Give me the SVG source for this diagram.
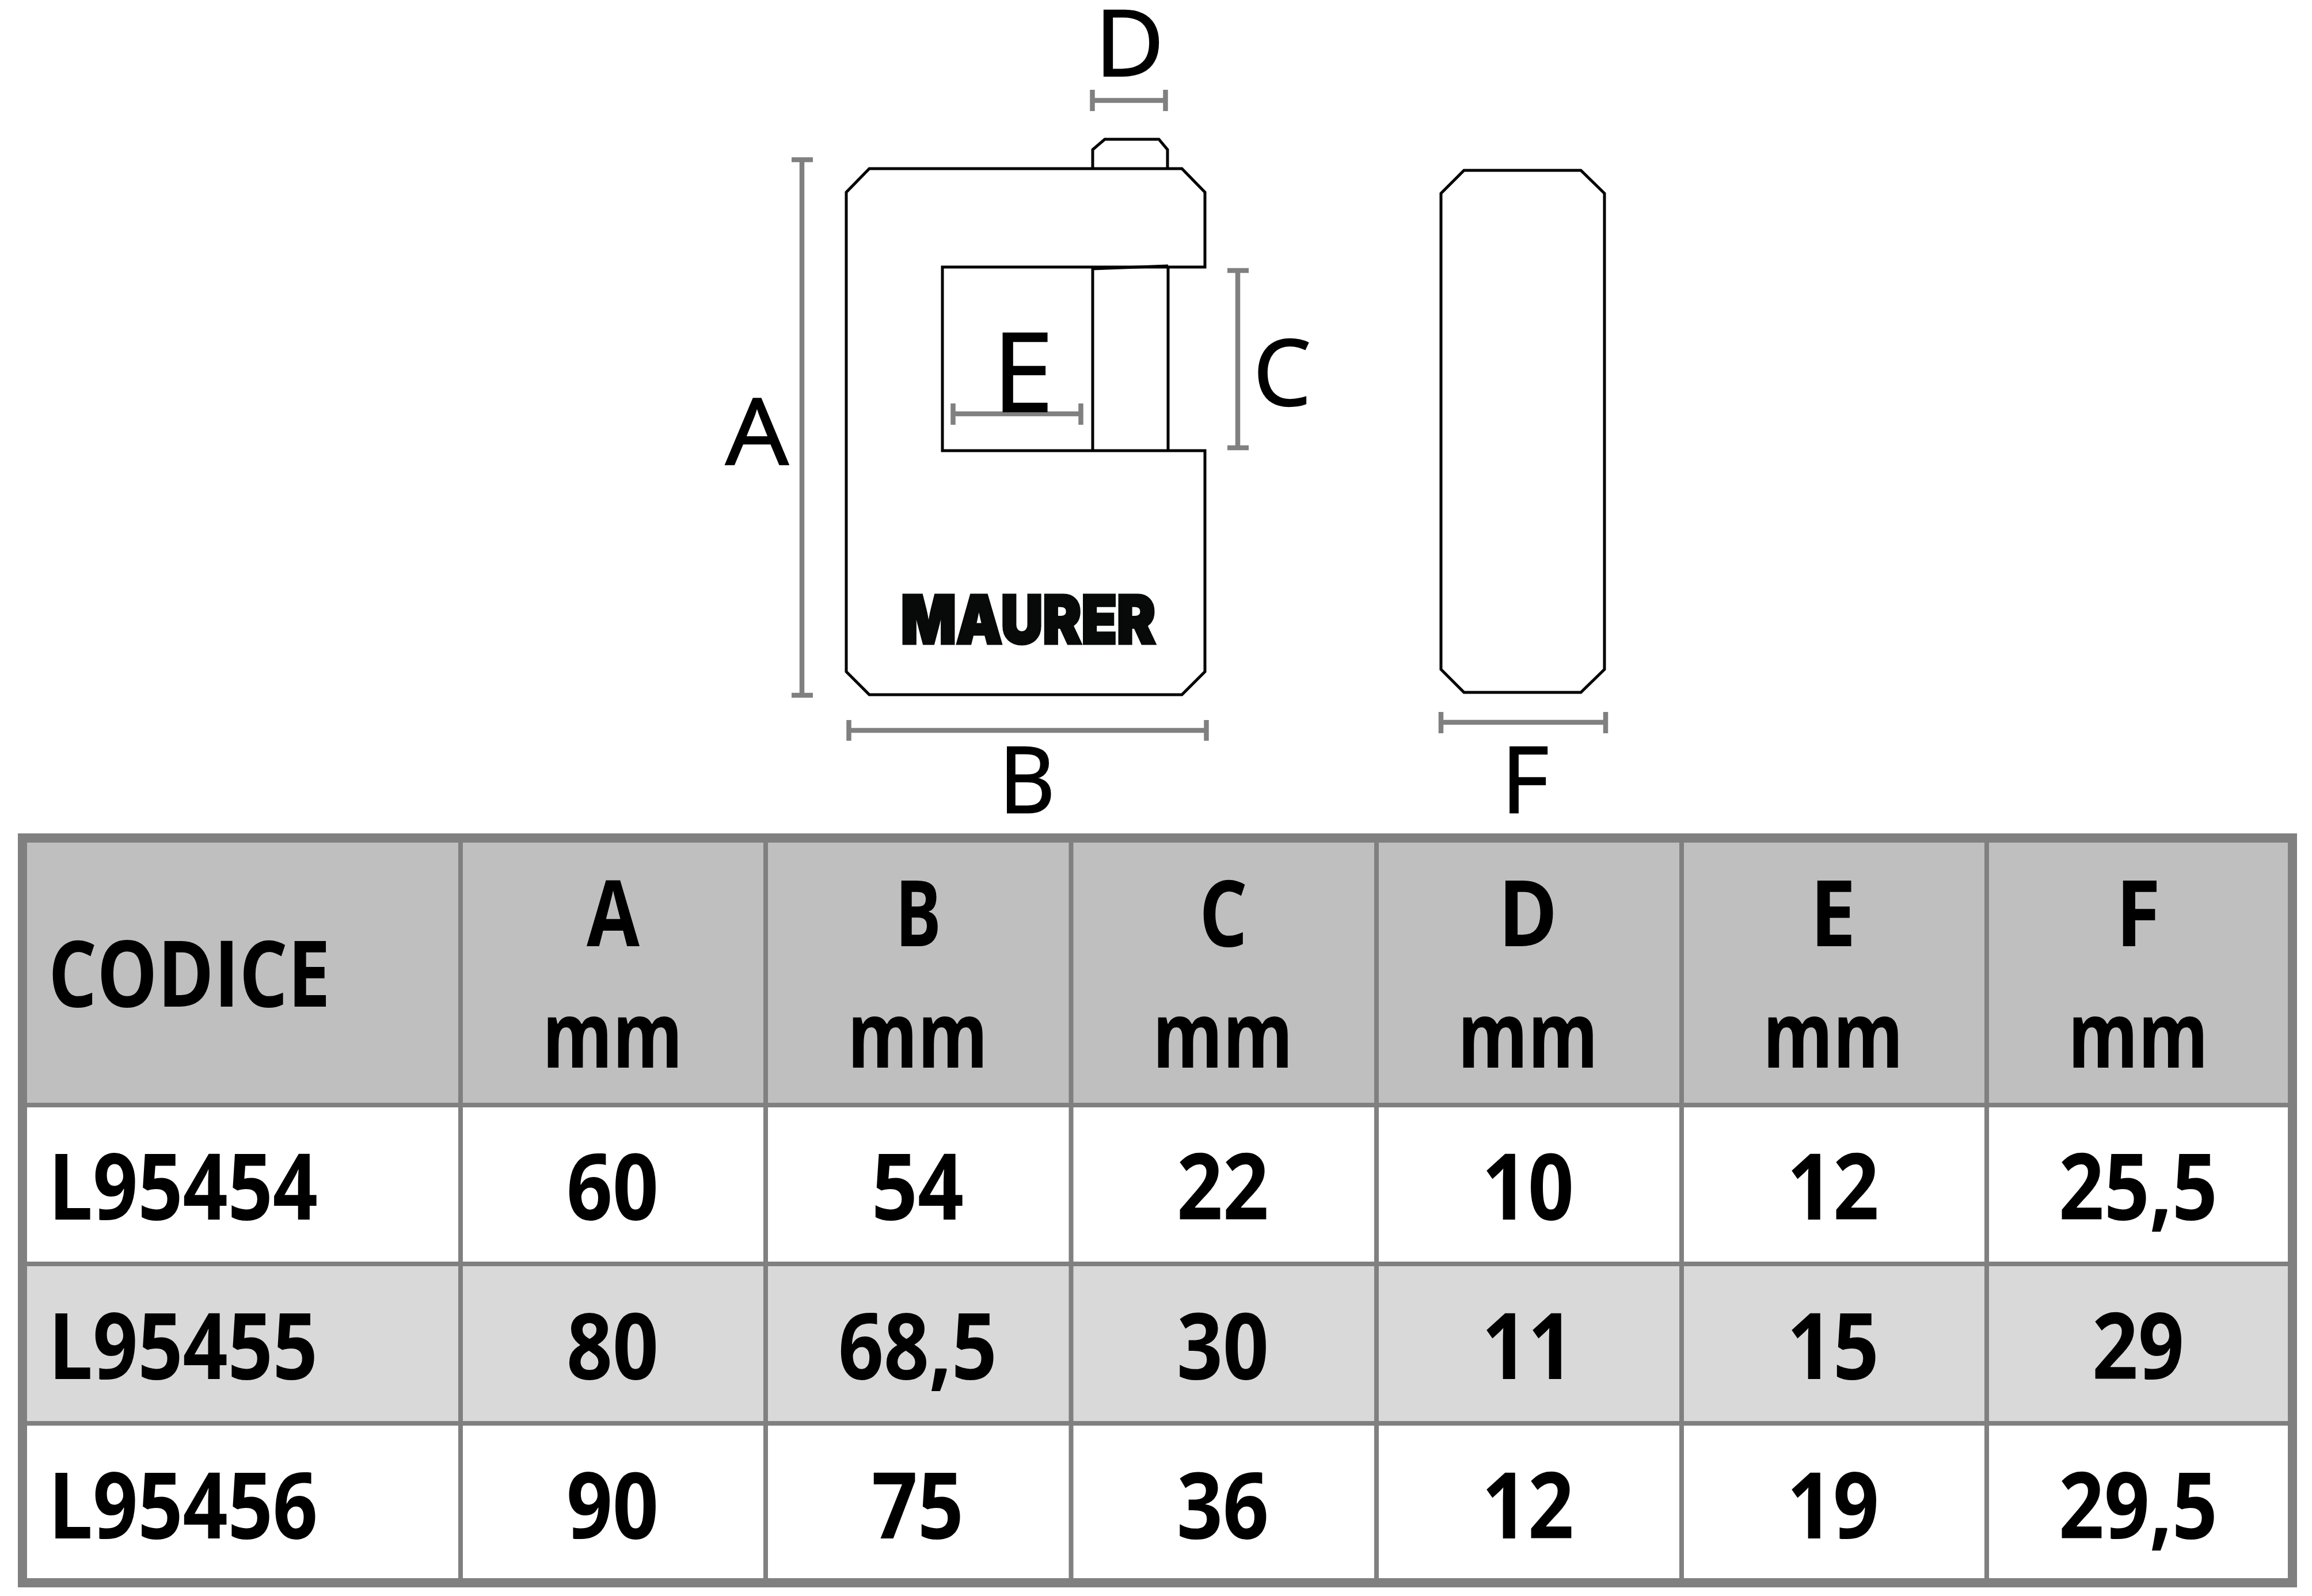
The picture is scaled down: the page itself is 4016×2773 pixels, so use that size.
<svg xmlns="http://www.w3.org/2000/svg" width="4016" height="2773" viewBox="0 0 4016 2773">
<style>
text{font-family:"Open Sans","Noto Sans","Liberation Sans",sans-serif;fill:#000;text-anchor:middle}
.lab{font-size:160px;font-weight:400;stroke:#000;stroke-width:2.5}
.t{font-size:160px;font-weight:700}
.l{text-anchor:start}
.o{fill:none;stroke:#000;stroke-width:5;stroke-linejoin:miter}
.dim{fill:none;stroke:#808080;stroke-width:8.5}
.grid{fill:none;stroke:#808080;stroke-width:8}
</style>
<rect width="4016" height="2773" fill="#fff"/>
<g id="front-view">
<path class="o" d="M1510 293H2053L2093 334V464H1637V783H2093V1167L2053 1207H1510L1470 1167V334Z"/>
<path class="o" d="M1898 293V260L1919 242H2013L2028 260V293"/>
<path class="o" d="M1898 464V783M2029 462V783M1898 467L2029 462"/>
<text x="1786" y="1118" style="font-family:Inter,'Liberation Sans',sans-serif;font-size:115px;font-weight:900;fill:#070a08;stroke:#070a08;stroke-width:5" textLength="442" lengthAdjust="spacingAndGlyphs">MAURER</text>
</g>
<g id="side-view">
<path class="o" d="M2543 296H2746L2787 336V1163L2746 1203H2543L2503 1163V336Z"/>
</g>
<g id="connectors">
<path class="dim" d="M1393 277V1208M1375 277.5H1412M1375 1208H1412"/>
<path class="dim" d="M1474 1269H2096M1474.500 1251V1287M2095.500 1251V1287"/>
<path class="dim" d="M2150 470V778M2132 470H2169M2132 778H2169"/>
<path class="dim" d="M1897 174.500H2025M1897.500 156V193M2024.500 156V193"/>
<path class="dim" d="M1655 719H1878M1655.500 701V738M1877.500 701V738"/>
<path class="dim" d="M2503 1255H2789M2503 1237V1274M2789 1237V1274"/>
</g>
<g id="dim-labels">
<text class="lab" x="1315" y="807" textLength="109" lengthAdjust="spacingAndGlyphs">A</text>
<text class="lab" x="1784" y="1412" textLength="97" lengthAdjust="spacingAndGlyphs">B</text>
<text class="lab" x="2227" y="704" textLength="100" lengthAdjust="spacingAndGlyphs">C</text>
<text class="lab" x="1962" y="132" textLength="120" lengthAdjust="spacingAndGlyphs">D</text>
<text class="lab" x="1777" y="715" style="font-size:190px">E</text>
<text class="lab" x="2649" y="1412">F</text>
</g>
<g id="table">
<rect x="39" y="1456" width="3943" height="462" fill="#bfbfbf"/>
<rect x="39" y="2196" width="3943" height="277" fill="#d9d9d9"/>
<path class="grid" d="M39 1920H3982M39 2196H3982M39 2473H3982M800 1456V2750M1330 1456V2750M1860.500 1456V2750M2391 1456V2750M2921 1456V2750M3451 1456V2750"/>
<rect x="39" y="1456" width="3943" height="1294" fill="none" stroke="#808080" stroke-width="16"/>
<g id="row-header">
<text class="t l" x="84" y="1749" textLength="490" lengthAdjust="spacingAndGlyphs">CODICE</text>
<text class="t" x="1065" y="1644" textLength="92" lengthAdjust="spacingAndGlyphs">A</text><text class="t" x="1064" y="1855" textLength="244" lengthAdjust="spacingAndGlyphs">mm</text>
<text class="t" x="1595" y="1644" textLength="80" lengthAdjust="spacingAndGlyphs">B</text><text class="t" x="1594" y="1855" textLength="244" lengthAdjust="spacingAndGlyphs">mm</text>
<text class="t" x="2125" y="1644" textLength="84" lengthAdjust="spacingAndGlyphs">C</text><text class="t" x="2124" y="1855" textLength="244" lengthAdjust="spacingAndGlyphs">mm</text>
<text class="t" x="2654" y="1644" textLength="103" lengthAdjust="spacingAndGlyphs">D</text><text class="t" x="2654" y="1855" textLength="244" lengthAdjust="spacingAndGlyphs">mm</text>
<text class="t" x="3184" y="1644" textLength="80" lengthAdjust="spacingAndGlyphs">E</text><text class="t" x="3184" y="1855" textLength="244" lengthAdjust="spacingAndGlyphs">mm</text>
<text class="t" x="3714" y="1644" textLength="78" lengthAdjust="spacingAndGlyphs">F</text><text class="t" x="3714" y="1855" textLength="244" lengthAdjust="spacingAndGlyphs">mm</text>
</g>
<g id="row-L95454">
<text class="t l" x="84" y="2119" textLength="468" lengthAdjust="spacingAndGlyphs">L95454</text>
<text class="t" x="1064" y="2119" textLength="160" lengthAdjust="spacingAndGlyphs">60</text>
<text class="t" x="1594" y="2119" textLength="160" lengthAdjust="spacingAndGlyphs">54</text>
<text class="t" x="2124" y="2119" textLength="160" lengthAdjust="spacingAndGlyphs">22</text>
<text class="t" x="2654" y="2119" textLength="160" lengthAdjust="spacingAndGlyphs">10</text>
<text class="t" x="3184" y="2119" textLength="160" lengthAdjust="spacingAndGlyphs">12</text>
<text class="t" x="3714" y="2119" textLength="276" lengthAdjust="spacingAndGlyphs">25,5</text>
</g>
<g id="row-L95455">
<text class="t l" x="84" y="2396" textLength="468" lengthAdjust="spacingAndGlyphs">L95455</text>
<text class="t" x="1064" y="2396" textLength="160" lengthAdjust="spacingAndGlyphs">80</text>
<text class="t" x="1594" y="2396" textLength="276" lengthAdjust="spacingAndGlyphs">68,5</text>
<text class="t" x="2124" y="2396" textLength="160" lengthAdjust="spacingAndGlyphs">30</text>
<text class="t" x="2654" y="2396" textLength="160" lengthAdjust="spacingAndGlyphs">11</text>
<text class="t" x="3184" y="2396" textLength="160" lengthAdjust="spacingAndGlyphs">15</text>
<text class="t" x="3714" y="2396" textLength="160" lengthAdjust="spacingAndGlyphs">29</text>
</g>
<g id="row-L95456">
<text class="t l" x="84" y="2673" textLength="468" lengthAdjust="spacingAndGlyphs">L95456</text>
<text class="t" x="1064" y="2673" textLength="160" lengthAdjust="spacingAndGlyphs">90</text>
<text class="t" x="1594" y="2673" textLength="160" lengthAdjust="spacingAndGlyphs">75</text>
<text class="t" x="2124" y="2673" textLength="160" lengthAdjust="spacingAndGlyphs">36</text>
<text class="t" x="2654" y="2673" textLength="160" lengthAdjust="spacingAndGlyphs">12</text>
<text class="t" x="3184" y="2673" textLength="160" lengthAdjust="spacingAndGlyphs">19</text>
<text class="t" x="3714" y="2673" textLength="276" lengthAdjust="spacingAndGlyphs">29,5</text>
</g>
</g>
</svg>
